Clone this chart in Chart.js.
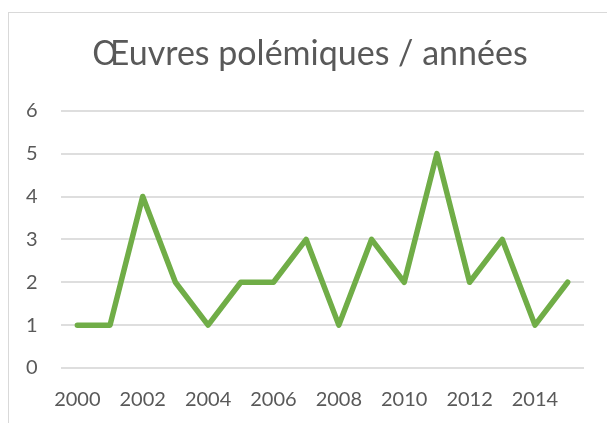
<!DOCTYPE html>
<html>
<head>
<meta charset="utf-8">
<script src="https://cdn.jsdelivr.net/npm/chart.js@4/dist/chart.umd.min.js"></script>
<style>
  html, body { margin: 0; padding: 0; background: #fff; overflow: hidden; }
  #frame { position: absolute; left: 8px; top: 12px; width: 700px; height: 500px; border: 1px solid #d9d9d9; }
  #wrap { position: absolute; left: 0; top: 0; width: 607px; height: 423px; }
</style>
</head>
<body>
<div id="frame"></div>
<div id="wrap"><canvas id="graph1"></canvas></div>
<script>
// data
var years = ["2000","2001","2002","2003","2004","2005","2006","2007",
             "2008","2009","2010","2011","2012","2013","2014","2015"];
var oeuvres = [1, 1, 4, 2, 1, 2, 2, 3, 1, 3, 2, 5, 2, 3, 1, 2];
var yTicks = [0, 1, 2, 3, 4, 5, 6];

var grey = '#595959';

var ctx = document.getElementById('graph1').getContext('2d');
var chart = new Chart(ctx, {
    type: 'line',
    data: {
        labels: years,
        datasets: [{
            label: "Œuvres polémiques",
            data: oeuvres,
            borderColor: '#70ad47',
            backgroundColor: '#70ad47',
            borderWidth: 5.5,
            borderCapStyle: 'round',
            borderJoinStyle: 'round',
            pointRadius: 0,
            tension: 0,
            fill: false
        }]
    },
    options: {
        responsive: true,
        maintainAspectRatio: false,
        animation: false,
        layout: {
            padding: { left: 36, right: 23, top: 0, bottom: 11 }
        },
        plugins: {
            legend: { display: false },
            tooltip: { enabled: false },
            title: {
                display: true,
                text: 'Œuvres polémiques / années',
                color: grey,
                font: { family: 'Lato', size: 34, weight: 'normal' },
                padding: { top: 34, bottom: 36 }
            }
        },
        scales: {
            x: {
                offset: true,
                afterFit: function(scale) { scale.height = 44; },
                grid: { display: false, drawTicks: false },
                border: { display: false },
                ticks: {
                    color: grey,
                    font: { family: 'Lato', size: 20 },
                    padding: 20,
                    autoSkip: false,
                    maxRotation: 0,
                    callback: function(v, i) {
                        return i % 2 === 0 ? years[i] : '';
                    }
                }
            },
            y: {
                min: yTicks[0],
                max: yTicks[yTicks.length - 1],
                afterFit: function(scale) { scale.width = 25; },
                afterBuildTicks: function(scale) {
                    scale.ticks = yTicks.map(function(v) { return { value: v }; });
                },
                grid: { color: '#dedede', lineWidth: 2, drawTicks: false },
                border: { display: false },
                ticks: {
                    color: grey,
                    font: { family: 'Lato', size: 20 },
                    mirror: true,
                    padding: -35
                }
            }
        }
    }
});
</script>
</body>
</html>
